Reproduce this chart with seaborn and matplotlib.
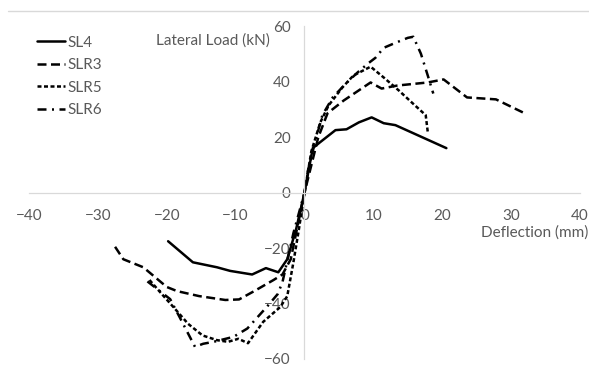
import matplotlib
matplotlib.use('Agg')
import matplotlib.pyplot as plt
import seaborn as sns
import pandas as pd
from matplotlib.lines import Line2D

# ---- datos (deflexion mm, carga kN) ----
sl4_x = [-19.8, -16.2, -12.7, -10.8, -7.6, -5.6, -3.8, -2.5, -1.2, 0.0, 1.2, 2.3, 4.5, 6.1, 7.9, 9.75, 11.5, 13.2, 20.6]
sl4_y = [-17.5, -25.1, -26.9, -28.2, -29.5, -27.2, -28.7, -24.0, -13.0, 0.0, 16.1, 18.3, 22.6, 22.9, 25.4, 27.2, 25.1, 24.4, 16.1]

slr3_x = [-27.5, -26.3, -23.4, -20.0, -18.5, -15.3, -11.5, -9.5, -7.3, -4.5, -3.2, -2.0, -1.0, 0.0, 1.0, 2.0, 3.35, 5.7, 9.6, 11.2, 13.5, 17.9, 20.2, 23.6, 27.8, 31.7]
slr3_y = [-19.5, -24.0, -26.9, -34.0, -35.5, -37.3, -38.7, -38.5, -35.5, -31.5, -29.5, -24.0, -12.0, 0.0, 10.0, 20.0, 28.7, 33.3, 39.8, 37.6, 38.7, 39.8, 40.9, 34.4, 33.7, 29.0]

slr5_x = [-22.5, -20.7, -18.8, -16.9, -14.8, -12.7, -11.1, -9.6, -8.2, -6.0, -3.5, -2.5, -1.6, -0.8, 0.0, 1.0, 2.3, 3.5, 5.5, 7.1, 9.6, 11.5, 13.7, 15.7, 17.6, 17.9]
slr5_y = [-31.5, -36.6, -41.9, -47.3, -51.5, -53.2, -53.8, -52.7, -54.3, -46.6, -41.2, -37.3, -25.0, -13.0, 0.0, 15.0, 25.4, 31.5, 38.0, 42.3, 45.5, 41.6, 36.9, 32.3, 28.0, 21.9]

slr6_x = [-22.8, -19.5, -18.0, -15.9, -14.7, -13.2, -10.3, -8.3, -5.4, -3.9, -3.2, -1.6, 0.0, 0.5, 1.5, 2.6, 4.1, 6.0, 7.7, 9.2, 10.3, 11.5, 13.2, 15.0, 15.8, 16.9, 17.9, 18.7]
slr6_y = [-32.0, -38.4, -45.5, -55.6, -54.5, -53.8, -52.0, -49.0, -41.0, -36.6, -32.3, -14.5, 0.0, 8.0, 18.0, 28.0, 34.4, 39.4, 43.4, 46.6, 48.7, 52.3, 54.1, 55.9, 56.3, 50.2, 42.3, 35.8]

series = ['SL4', 'SLR3', 'SLR5', 'SLR6']
xs = [sl4_x, slr3_x, slr5_x, slr6_x]
ys = [sl4_y, slr3_y, slr5_y, slr6_y]

frames = []
for nombre, x, y in zip(series, xs, ys):
    frames.append(pd.DataFrame({'Deflection': x, 'Load': y, 'Serie': nombre}))
df = pd.concat(frames, ignore_index=True)

sns.set_style('white')
plt.rcParams['font.family'] = ['Lato', 'DejaVu Sans']

fig = plt.figure(figsize=(5.89, 3.67), dpi=100)
ax = fig.add_axes([0.0492, 0.0218, 0.9355, 0.9060])

grosor = 1.8
estilos = {'SL4': '', 'SLR3': (3.6, 1.8), 'SLR5': (1.6, 1.0), 'SLR6': (3.6, 2.2, 0.8, 2.2)}
sns.lineplot(data=df, x='Deflection', y='Load', hue='Serie', style='Serie',
             palette=['black'] * 4, dashes=estilos, sort=False, estimator=None,
             units='Serie', linewidth=grosor, ax=ax, legend=False)

ax.set_xlim(-40, 40)
ax.set_ylim(-60, 60)
ax.set_xticks(range(-40, 41, 10))
ax.set_yticks(range(-60, 61, 20))
ax.set_xlabel('')
ax.set_ylabel('')

gris = '#d9d9d9'
for lado in ['top', 'right']:
    ax.spines[lado].set_visible(False)
ax.spines['left'].set_position(('data', 0))
ax.spines['bottom'].set_position(('data', 0))
ax.spines['left'].set_color(gris)
ax.spines['bottom'].set_color(gris)
ax.spines['left'].set_linewidth(0.9)
ax.spines['bottom'].set_linewidth(0.9)
ax.tick_params(length=0, labelsize=11, labelcolor='#595959')
ax.tick_params(axis='x', pad=12)
ax.tick_params(axis='y', pad=10)

ax.text(-21.5, 55, 'Lateral Load (kN)', fontsize=11, color='#595959', ha='left', va='center')
ax.text(41.2, -14.2, 'Deflection (mm)', fontsize=11, color='#595959', ha='right', va='center')

handles = [Line2D([], [], color='black', lw=grosor, linestyle='-'),
           Line2D([], [], color='black', lw=grosor, dashes=estilos['SLR3']),
           Line2D([], [], color='black', lw=grosor, dashes=estilos['SLR5']),
           Line2D([], [], color='black', lw=grosor, dashes=estilos['SLR6'])]
leg = ax.legend(handles, series, loc='upper left', bbox_to_anchor=(0.015, 0.972),
                frameon=False, fontsize=11, handlelength=1.8, handletextpad=0.15,
                labelspacing=0.55, borderaxespad=0, borderpad=0)
for t in leg.get_texts():
    t.set_color('#595959')

fig.add_artist(Line2D([0.014, 1.0], [0.970, 0.970], color=gris, lw=1.0, transform=fig.transFigure))

fig.savefig('out.png', dpi=100)
